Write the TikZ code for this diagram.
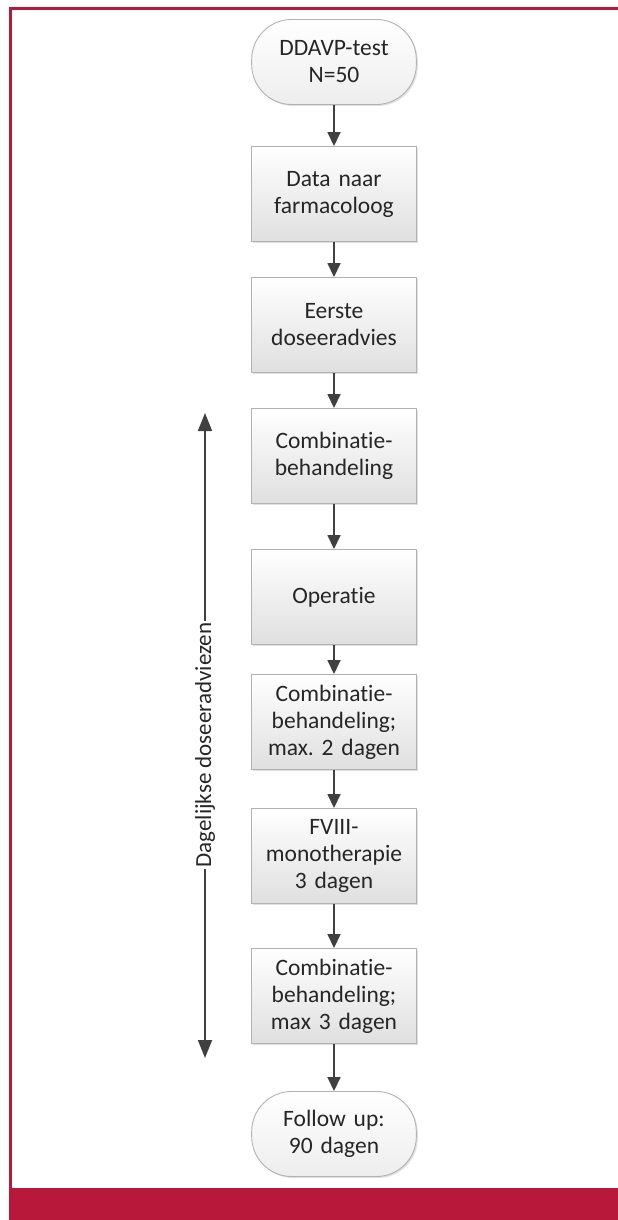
\documentclass[tikz,border=0pt]{standalone}
\usepackage{fontspec}
\setmainfont{Carlito}[Ligatures={NoCommon}]
\usetikzlibrary{arrows.meta,shadows}
\definecolor{brdred}{HTML}{B8193A}
\definecolor{arrgray}{HTML}{404040}
\definecolor{txtgray}{HTML}{262626}
\begin{document}
\frenchspacing
\begin{tikzpicture}[x=1pt,y=-1pt,
  box/.style={draw=gray!60, line width=0.9pt, top color=white, bottom color=gray!25,
    minimum width=164pt, minimum height=95pt, text width=158pt, align=center,
    font=\fontsize{23.5}{27}\selectfont, text=txtgray,
    drop shadow={shadow xshift=1.5pt, shadow yshift=-1.5pt, opacity=0.25, fill=gray}},
  term/.style={box, rounded corners=40pt, minimum height=85pt, bottom color=gray!14},
  flow/.style={draw=arrgray, line width=1.6pt, -{Triangle[length=14pt,width=13pt]}},
  side/.style={draw=arrgray, line width=1.6pt, {Triangle[length=18pt,width=14pt]}-{Triangle[length=18pt,width=14pt]}},
  lbl/.style={fill=white, inner sep=2pt, font=\fontsize{23}{26}\selectfont, text=txtgray, rotate=90}]
\useasboundingbox (0,0) rectangle (618,1220);
% frame
\fill[brdred] (9,1188) rectangle (618,1220);
\draw[brdred, line width=3pt] (10,1188) -- (10,9) -- (618,9);
% nodes
\node[term] (n1) at (334,62) {DDAVP-test\\N=50};
\node[box] (n2) at (334,194) {Data naar\\farmacoloog};
\node[box] (n3) at (334,325) {Eerste\\doseeradvies};
\node[box] (n4) at (334,456) {Combinatie-\\behandeling};
\node[box] (n5) at (334,597) {Operatie};
\node[box] (n6) at (334,722) {Combinatie-\\behandeling;\\max. 2 dagen};
\node[box] (n7) at (334,856) {FVIII-\\monotherapie\\3 dagen};
\node[box] (n8) at (334,996) {Combinatie-\\behandeling;\\max 3 dagen};
\node[term] (n9) at (334,1134) {Follow up:\\90 dagen};
% connectors
\draw[flow] (n1) -- (n2);
\draw[flow] (n2) -- (n3);
\draw[flow] (n3) -- (n4);
\draw[flow] (n4) -- (n5);
\draw[flow] (n5) -- (n6);
\draw[flow] (n6) -- (n7);
\draw[flow] (n7) -- (n8);
\draw[flow] (n8) -- (n9);
% side arrow
\coordinate (st) at (205,413);
\coordinate (sb) at (205,1058);
\draw[side] (st) -- (sb);
\node[lbl] (lab) at (205,745) {Dagelijkse doseeradviezen};
\end{tikzpicture}
\end{document}
